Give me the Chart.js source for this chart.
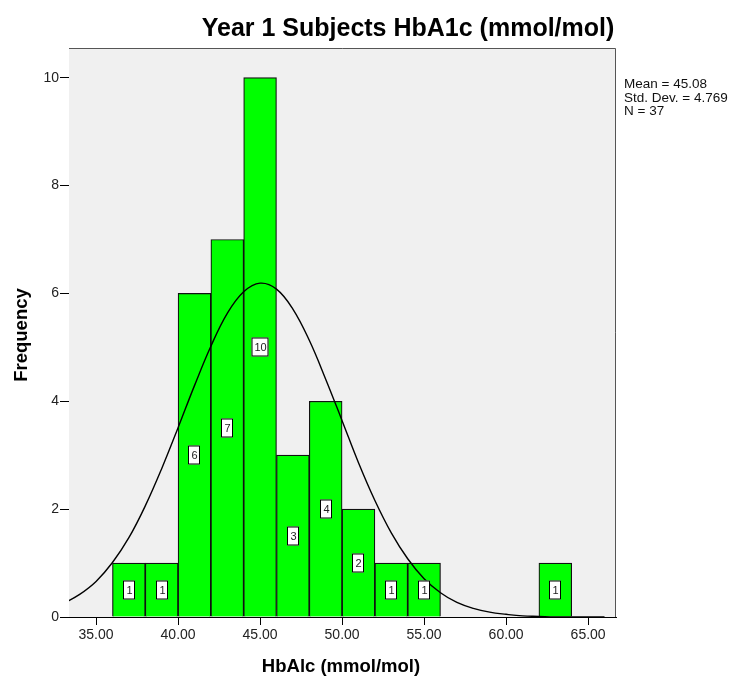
<!DOCTYPE html>
<html>
<head>
<meta charset="utf-8">
<script src="https://cdn.jsdelivr.net/npm/chart.js@4/dist/chart.umd.min.js"></script>
<style>
  html, body { margin: 0; padding: 0; background: #fff; }
  #wrap { width: 736px; height: 677px; }
</style>
</head>
<body>
<div id="wrap"><canvas id="histChart" width="736" height="677"></canvas></div>
<script>
// histogram bins (centre of each 2-unit bin) and counts
const binCentres = [37, 39, 41, 43, 45, 47, 49, 51, 53, 55, 63];
const binCounts = [1, 1, 6, 7, 10, 3, 4, 2, 1, 1, 1];

// normal curve
const curveX = [33, 34, 35, 36, 37, 38, 39, 40, 41, 42, 43, 44, 45, 46, 47, 48, 49, 50,
                51, 52, 53, 54, 55, 56, 57, 58, 59, 60, 61, 62, 63, 64, 65, 66];
const curveY = [0.25, 0.42, 0.66, 1.01, 1.47, 2.06, 2.75, 3.51, 4.29, 5.02, 5.63, 6.03, 6.19, 6.08,
                5.71, 5.13, 4.41, 3.64, 2.86, 2.16, 1.56, 1.08, 0.71, 0.45, 0.27, 0.16, 0.09, 0.05,
                0.02, 0.01, 0.0, 0.0, 0.0, 0.0];

const xTickValues = [35, 40, 45, 50, 55, 60, 65];
const yTickValues = [0, 2, 4, 6, 8, 10];
const statLines = ['Mean = 45.08', 'Std. Dev. = 4.769', 'N = 37'];

const FONT = 'Arial, "Liberation Sans", sans-serif';

// grey plot background + frame
const plotBackground = {
    id: 'plotBackground',
    beforeDatasetsDraw(chart) {
        const { ctx, chartArea: a } = chart;
        ctx.save();
        ctx.fillStyle = '#f0f0f0';
        ctx.fillRect(a.left, a.top, a.right - a.left, a.bottom - a.top);
        ctx.restore();
    },
    afterDraw(chart) {
        const { ctx, chartArea: a } = chart;
        ctx.save();
        ctx.strokeStyle = '#555';
        ctx.lineWidth = 1;
        ctx.beginPath();
        ctx.moveTo(a.left, a.top + 0.5);
        ctx.lineTo(a.right - 0.5, a.top + 0.5);
        ctx.lineTo(a.right - 0.5, a.bottom);
        ctx.stroke();
        ctx.restore();
    }
};

// count boxes on each bar, titles and the stats note
const annotations = {
    id: 'annotations',
    afterDatasetsDraw(chart) {
        const { ctx } = chart;
        const xs = chart.scales.x, ys = chart.scales.y;
        ctx.save();
        ctx.font = '11px ' + FONT;
        ctx.textAlign = 'center';
        ctx.textBaseline = 'middle';
        binCentres.forEach((c, i) => {
            const label = String(binCounts[i]);
            const px = Math.round(xs.getPixelForValue(c));
            const py = Math.round(ys.getPixelForValue(binCounts[i] / 2));
            const w = label.length > 1 ? 17 : 12;
            const h = 19;
            ctx.fillStyle = '#fff';
            ctx.fillRect(px - w / 2, py - h / 2, w, h);
            ctx.strokeStyle = '#000';
            ctx.lineWidth = 1;
            ctx.strokeRect(px - w / 2 + 0.5, py - h / 2 + 0.5, w - 1, h - 1);
            ctx.fillStyle = '#222';
            ctx.fillText(label, px + 0.5, py + 1);
        });
        ctx.restore();
    },
    afterDraw(chart) {
        const { ctx } = chart;
        ctx.save();
        ctx.fillStyle = '#000';
        ctx.textBaseline = 'alphabetic';

        ctx.font = 'bold 25px ' + FONT;
        ctx.textAlign = 'center';
        ctx.fillText('Year 1 Subjects HbA1c (mmol/mol)', 408, 36);

        ctx.font = 'bold 18.5px ' + FONT;
        ctx.fillText('HbAlc (mmol/mol)', 341, 672);

        ctx.save();
        ctx.translate(27, 335);
        ctx.rotate(-Math.PI / 2);
        ctx.fillText('Frequency', 0, 0);
        ctx.restore();

        ctx.font = '13.5px ' + FONT;
        ctx.fillStyle = '#111';
        ctx.textAlign = 'left';
        statLines.forEach((s, i) => ctx.fillText(s, 624, 88 + i * 13.5));
        ctx.restore();
    }
};

new Chart(document.getElementById('histChart'), {
    data: {
        datasets: [
            {
                type: 'line',
                data: curveX.map((x, i) => ({ x: x, y: curveY[i] })),
                borderColor: '#000',
                borderWidth: 1.4,
                pointRadius: 0,
                tension: 0.4,
                fill: false,
                order: 0
            },
            {
                type: 'bar',
                data: binCentres.map((c, i) => ({ x: c, y: binCounts[i] })),
                backgroundColor: '#00ff00',
                borderColor: '#111',
                borderWidth: 1.2,
                barPercentage: 1,
                categoryPercentage: 1,
                order: 1
            }
        ]
    },
    options: {
        responsive: false,
        animation: false,
        layout: { padding: { top: 48, right: 120, bottom: 0, left: 0 } },
        plugins: { legend: { display: false }, tooltip: { enabled: false }, title: { display: false } },
        scales: {
            x: {
                type: 'linear',
                offset: false,
                min: 33.35,
                max: 66.7,
                afterBuildTicks(scale) { scale.ticks = xTickValues.map(v => ({ value: v })); },
                afterFit(scale) { scale.height = 60; },
                grid: { offset: false, drawOnChartArea: false, drawTicks: true, tickLength: 8, color: '#000' },
                border: { display: true, color: '#000', width: 1 },
                ticks: {
                    color: '#222',
                    padding: 2,
                    maxRotation: 0,
                    font: { family: FONT, size: 14 },
                    callback: v => Number(v).toFixed(2)
                }
            },
            y: {
                min: 0,
                max: 10.55,
                afterBuildTicks(scale) { scale.ticks = yTickValues.map(v => ({ value: v })); },
                afterFit(scale) { scale.width = 69; },
                grid: { drawOnChartArea: false, drawTicks: true, tickLength: 9, color: '#000' },
                border: { display: true, color: '#000', width: 1 },
                ticks: {
                    color: '#222',
                    padding: 1,
                    font: { family: FONT, size: 14 }
                }
            }
        }
    },
    plugins: [plotBackground, annotations]
});
</script>
</body>
</html>
